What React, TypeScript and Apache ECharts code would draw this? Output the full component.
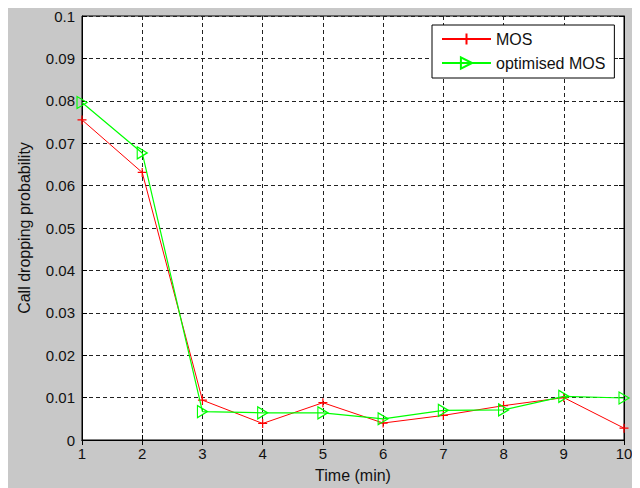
import React, { useEffect, useRef } from "react";
import * as echarts from "echarts";

const timeMin = [1, 2, 3, 4, 5, 6, 7, 8, 9, 10];
const mosValues = [0.0755, 0.0631, 0.0094, 0.0039, 0.0088, 0.004, 0.0058, 0.0081, 0.01, 0.0028];
const optimisedValues = [0.0796, 0.0677, 0.0067, 0.0064, 0.0064, 0.005, 0.007, 0.0071, 0.0103, 0.0099];
const yTickLabels = ["0", "0.01", "0.02", "0.03", "0.04", "0.05", "0.06", "0.07", "0.08", "0.09", "0.1"];
const seriesNames = ["MOS", "optimised MOS"];

const FONT = "'Liberation Sans', Arial, sans-serif";

export default function App() {
  const ref = useRef<HTMLDivElement>(null);
  useEffect(() => {
    if (!ref.current) return;
    const chart = echarts.init(ref.current, null, { renderer: "svg" });
    const gridDash = { color: "#222", width: 1, type: [4, 3] as any };
    const baseX = {
      type: "value" as const,
      min: 1,
      max: 10,
      interval: 1,
    };
    const baseY = {
      type: "value" as const,
      min: 0,
      max: 0.1,
      interval: 0.01,
    };
    chart.setOption({
      animation: false,
      backgroundColor: "#c8c8c8",
      textStyle: { fontFamily: FONT },
      grid: {
        left: 73,
        top: 10,
        right: 16,
        bottom: 44,
        show: true,
        backgroundColor: "#ffffff",
        borderColor: "#000",
        borderWidth: 1,
      },
      legend: {
        orient: "vertical",
        left: 424,
        top: 19,
        backgroundColor: "#ffffff",
        borderColor: "#000",
        borderWidth: 1,
        borderRadius: 0,
        padding: [6, 9, 7, 9],
        itemWidth: 49,
        itemHeight: 14,
        itemGap: 8,
        textStyle: { fontSize: 16, color: "#111", fontFamily: FONT },
        data: seriesNames,
      },
      xAxis: [
        {
          ...baseX,
          position: "bottom",
          name: "Time (min)",
          nameLocation: "middle",
          nameGap: 27,
          nameTextStyle: { fontSize: 16, color: "#111", fontFamily: FONT },
          axisLine: { show: true, lineStyle: { color: "#000", width: 1 } },
          axisTick: { show: true, inside: true, length: 5, lineStyle: { color: "#000" } },
          axisLabel: { margin: 6, fontSize: 15, color: "#111", fontFamily: FONT },
          splitLine: { show: true, lineStyle: gridDash },
        },
        {
          ...baseX,
          position: "top",
          axisLine: { show: true, lineStyle: { color: "#000", width: 1 } },
          axisTick: { show: true, inside: true, length: 5, lineStyle: { color: "#000" } },
          axisLabel: { show: false },
          splitLine: { show: false },
        },
      ],
      yAxis: [
        {
          ...baseY,
          position: "left",
          name: "Call dropping probability",
          nameLocation: "middle",
          nameGap: 50,
          nameTextStyle: { fontSize: 16, color: "#111", fontFamily: FONT },
          axisLine: { show: true, lineStyle: { color: "#000", width: 1 } },
          axisTick: { show: true, inside: true, length: 5, lineStyle: { color: "#000" } },
          axisLabel: {
            margin: 7,
            fontSize: 15,
            color: "#111",
            fontFamily: FONT,
            formatter: (v: number) => yTickLabels[Math.round(v / 0.01)] ?? String(v),
          },
          splitLine: { show: true, lineStyle: gridDash },
        },
        {
          ...baseY,
          position: "right",
          axisLine: { show: true, lineStyle: { color: "#000", width: 1 } },
          axisTick: { show: true, inside: true, length: 5, lineStyle: { color: "#000" } },
          axisLabel: { show: false },
          splitLine: { show: false },
        },
      ],
      series: [
        {
          name: seriesNames[0],
          type: "line",
          xAxisIndex: 0,
          yAxisIndex: 0,
          data: timeMin.map((t, i) => [t, mosValues[i]]),
          symbol: "path://M5,0L5,10M0,5L10,5",
          symbolSize: 9,
          showAllSymbol: true,
          lineStyle: { color: "#ff0000", width: 1 },
          itemStyle: { color: "#ff0000", borderColor: "#ff0000", borderWidth: 1.2 },
          emphasis: { disabled: true },
          z: 3,
        },
        {
          name: seriesNames[1],
          type: "line",
          xAxisIndex: 0,
          yAxisIndex: 0,
          data: timeMin.map((t, i) => [t, optimisedValues[i]]),
          symbol: "path://M0,0L10,6L0,12Z",
          symbolSize: [10, 12],
          showAllSymbol: true,
          lineStyle: { color: "#00ff00", width: 1.2 },
          itemStyle: { color: "transparent", borderColor: "#00ff00", borderWidth: 1.2 },
          emphasis: { disabled: true },
          z: 4,
        },
      ],
    });
    return () => chart.dispose();
  }, []);
  return <div ref={ref} style={{ width: 632, height: 482, marginTop: -2 }} />;
}
